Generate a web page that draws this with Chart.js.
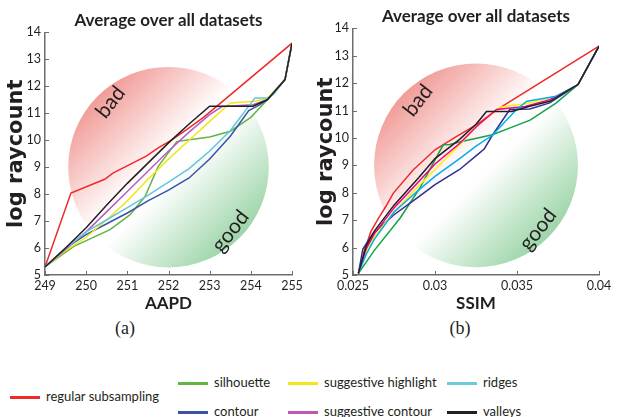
<!DOCTYPE html>
<html>
<head>
<meta charset="utf-8">
<script src="https://cdn.jsdelivr.net/npm/chart.js@4.4.1/dist/chart.umd.min.js"></script>
<style>
body { margin: 0; background: #fff; width: 628px; height: 417px; position: relative; overflow: hidden; font-family: Lato, sans-serif; color: #231f20; }
canvas { position: absolute; top: 0; }
#aapdChart { left: 0; }
#ssimChart { left: 310px; }
.caption { position: absolute; top: 318px; font: 18px 'Liberation Serif', serif; transform: translateX(-50%); }
.key { position: absolute; font-size: 13px; line-height: 16px; white-space: nowrap; }
.key i { display: inline-block; width: 30px; height: 3px; vertical-align: middle; margin-right: 6px; }
</style>
</head>
<body>
<canvas id="aapdChart" width="310" height="318"></canvas>
<canvas id="ssimChart" width="318" height="318"></canvas>
<div class="caption" style="left:125px">(a)</div>
<div class="caption" style="left:460px">(b)</div>
<div id="legend"></div>
<script>
'use strict'

const seriesNames = ['regular subsampling', 'silhouette', 'contour', 'suggestive highlight', 'suggestive contour', 'ridges', 'valleys'];
const raycountTicks = [5, 6, 7, 8, 9, 10, 11, 12, 13, 14];
const aapdTicks = [249, 250, 251, 252, 253, 254, 255];
const ssimTicks = [0.025, 0.03, 0.035, 0.04];

// AAPD vs log raycount, [x, y]
const aapdRegular = [[249, 5.3], [249.63, 8.04], [250.45, 8.55], [250.65, 8.78], [251.47, 9.42], [251.75, 9.72], [252.07, 10.0], [252.45, 10.4], [252.85, 10.85], [255, 13.6]];
const aapdSilhouette = [[249, 5.3], [249.7, 6.06], [250.58, 6.68], [251.06, 7.23], [251.43, 7.91], [251.75, 9.03], [252.2, 9.95], [252.5, 10.02], [253, 10.12], [253.5, 10.33], [254, 10.85], [254.4, 11.5], [254.83, 12.25], [255, 13.6]];
const aapdContour = [[249, 5.3], [249.5, 6.0], [250, 6.5], [250.5, 6.9], [251, 7.3], [251.5, 7.75], [252, 8.15], [252.5, 8.6], [253, 9.3], [253.5, 10.15], [253.95, 11.1], [254.2, 11.3], [254.4, 11.5], [254.83, 12.25], [255, 13.6]];
const aapdHighlight = [[249, 5.3], [249.5, 5.9], [250, 6.4], [250.5, 7.05], [251, 7.75], [251.5, 8.55], [252, 9.3], [252.5, 10.0], [253, 10.7], [253.5, 11.38], [254.1, 11.45], [254.4, 11.55], [254.83, 12.25], [255, 13.6]];
const aapdSugContour = [[249, 5.3], [249.5, 5.95], [250, 6.6], [250.5, 7.35], [251, 8.1], [251.5, 8.85], [252, 9.6], [252.5, 10.3], [253, 10.95], [253.3, 11.25], [254.05, 11.32], [254.4, 11.5], [254.83, 12.25], [255, 13.6]];
const aapdRidges = [[249, 5.3], [249.5, 6.0], [250, 6.6], [250.5, 7.05], [251, 7.5], [251.5, 7.95], [252, 8.45], [252.5, 8.95], [253, 9.6], [253.5, 10.35], [254.1, 11.57], [254.4, 11.57], [254.55, 11.7], [254.83, 12.25], [255, 13.6]];
const aapdValleys = [[249, 5.3], [249.5, 6.0], [250, 6.75], [250.5, 7.6], [251, 8.4], [251.5, 9.15], [252, 9.9], [252.5, 10.6], [253, 11.26], [254.05, 11.26], [254.4, 11.5], [254.83, 12.25], [255, 13.6]];

// SSIM vs log raycount, [x, y]
const ssimRegular = [[0.02533, 5.06], [0.0257, 5.9], [0.0261, 6.6], [0.02655, 7.07], [0.027, 7.5], [0.02746, 7.99], [0.02868, 8.84], [0.03, 9.57], [0.03132, 10.06], [0.03254, 10.49], [0.03395, 11.1], [0.04, 13.35]];
const ssimSilhouette = [[0.02533, 5.06], [0.0263, 5.9], [0.0279, 7.1], [0.0291, 8.2], [0.03, 9.2], [0.0305, 9.75], [0.0309, 9.76], [0.0317, 9.88], [0.0335, 10.12], [0.0345, 10.35], [0.0358, 10.65], [0.0374, 11.28], [0.03872, 11.95], [0.04, 13.35]];
const ssimContour = [[0.02533, 5.06], [0.0256, 5.95], [0.0262, 6.5], [0.0275, 7.2], [0.029, 7.85], [0.03, 8.3], [0.0315, 8.85], [0.0325, 9.35], [0.033, 9.6], [0.0335, 10.1], [0.03456, 11.04], [0.03578, 11.06], [0.037, 11.28], [0.03872, 11.95], [0.04, 13.35]];
const ssimHighlight = [[0.02533, 5.06], [0.0258, 5.85], [0.0263, 6.4], [0.0275, 7.3], [0.029, 8.25], [0.03, 8.85], [0.0315, 9.75], [0.0325, 10.4], [0.03395, 11.12], [0.0356, 11.26], [0.0374, 11.52], [0.03872, 11.95], [0.04, 13.35]];
const ssimSugContour = [[0.02533, 5.06], [0.0258, 5.95], [0.0263, 6.5], [0.0275, 7.45], [0.029, 8.4], [0.03, 9.05], [0.0315, 9.8], [0.0325, 10.4], [0.03375, 11.04], [0.0355, 11.15], [0.037, 11.4], [0.03872, 11.95], [0.04, 13.35]];
const ssimRidges = [[0.02533, 5.06], [0.0258, 5.75], [0.0263, 6.3], [0.0275, 7.3], [0.029, 8.1], [0.03, 8.6], [0.0315, 9.25], [0.0325, 9.7], [0.0335, 10.1], [0.03497, 11.04], [0.0356, 11.34], [0.0365, 11.43], [0.0374, 11.52], [0.03872, 11.95], [0.04, 13.35]];
const ssimValleys = [[0.02533, 5.06], [0.0258, 6.05], [0.0263, 6.6], [0.0275, 7.55], [0.029, 8.55], [0.03, 9.25], [0.0315, 9.95], [0.0325, 10.5], [0.03314, 10.97], [0.03467, 10.97], [0.03578, 11.16], [0.037, 11.34], [0.03872, 11.95], [0.04, 13.35]];

const legendColors = ['#ee2a2a', '#62b446', '#3a53a4', '#f2e51a', '#c157b0', '#6cc9d9', '#231f20'];
const aapdColors = ['#ee2a2a', '#62b446', '#3a53a4', '#f2e51a', '#b45fbf', '#62c6dc', '#231f20'];
const ssimColors = ['#ee2a2a', '#13a24b', '#2e3192', '#fff200', '#ec008c', '#00aeef', '#231f20'];

Chart.defaults.font.family = 'Lato, sans-serif';
Chart.defaults.color = '#231f20';

// red/green disc behind the lines + inward tick marks
const backdrop = {
    id: 'backdrop',
    beforeDatasetsDraw(chart, args, opts) {
        const { ctx } = chart;
        const x = chart.scales.x, y = chart.scales.y;
        const cx = x.getPixelForValue(opts.cx);
        const cy = y.getPixelForValue(opts.cy);
        const r = Math.abs(y.getPixelForValue(opts.cy) - y.getPixelForValue(opts.cy + opts.r));
        const g = ctx.createLinearGradient(cx - r * 0.75, cy - r * 0.75, cx + r * 0.75, cy + r * 0.75);
        g.addColorStop(0, '#f09590');
        g.addColorStop(0.45, '#ffffff');
        g.addColorStop(0.55, '#ffffff');
        g.addColorStop(1, '#96d2a2');
        ctx.save();
        ctx.beginPath();
        ctx.arc(cx, cy, r, 0, Math.PI * 2);
        ctx.fillStyle = g;
        ctx.fill();
        ctx.fillStyle = '#231f20';
        ctx.font = '21px Lato, sans-serif';
        ctx.textAlign = 'center';
        ctx.textBaseline = 'middle';
        [['bad', -58, -65], ['good', 62, 64]].forEach(([t, dx, dy]) => {
            ctx.save();
            ctx.translate(cx + dx, cy + dy);
            ctx.rotate(-52 * Math.PI / 180);
            ctx.fillText(t, 0, 0);
            ctx.restore();
        });
        ctx.restore();
    },
    afterDatasetsDraw(chart) {
        const { ctx, chartArea } = chart;
        const x = chart.scales.x, y = chart.scales.y;
        ctx.save();
        ctx.strokeStyle = '#6d6e71';
        ctx.lineWidth = 1;
        ctx.beginPath();
        x.ticks.forEach(t => {
            const px = Math.round(x.getPixelForValue(t.value)) + 0.5;
            ctx.moveTo(px, chartArea.bottom);
            ctx.lineTo(px, chartArea.bottom - 4);
        });
        y.ticks.forEach(t => {
            const py = Math.round(y.getPixelForValue(t.value)) + 0.5;
            ctx.moveTo(chartArea.left, py);
            ctx.lineTo(chartArea.left + 4, py);
        });
        ctx.stroke();
        ctx.restore();
    }
};

function makeChart(id, series, colors, xTicks, xTitle, disc, pad) {
    const datasets = series.map((pts, i) => ({
        label: seriesNames[i],
        data: pts.map(p => ({ x: p[0], y: p[1] })),
        borderColor: colors[i],
        backgroundColor: colors[i],
        borderWidth: 1.5,
        showLine: true,
        pointRadius: 0,
        tension: 0
    })).reverse(); // valleys on top

    return new Chart(document.getElementById(id).getContext('2d'), {
        type: 'scatter',
        data: { datasets },
        plugins: [backdrop],
        options: {
            responsive: false,
            animation: false,
            devicePixelRatio: 1,
            layout: { padding: { left: 0, right: pad.right, top: 0, bottom: 0 } },
            plugins: {
                legend: { display: false },
                tooltip: { enabled: false },
                title: {
                    display: true,
                    fullSize: false,
                    text: 'Average over all datasets',
                    font: { size: 17, weight: 'bold' },
                    padding: { top: pad.titleTop, bottom: 2 }
                },
                backdrop: disc
            },
            scales: {
                x: {
                    type: 'linear',
                    min: xTicks[0],
                    max: xTicks[xTicks.length - 1],
                    afterBuildTicks: s => { s.ticks = xTicks.map(v => ({ value: v })); },
                    afterFit: s => { s.height = 43; },
                    grid: { display: false, drawTicks: false },
                    border: { display: true, color: '#6d6e71', width: 1.5 },
                    ticks: { font: { size: 12.5 }, padding: 3, maxRotation: 0, callback: v => String(v) },
                    title: { display: true, text: xTitle, font: { size: 17, weight: 'bold' }, padding: { top: 0, bottom: 4 } }
                },
                y: {
                    min: 5,
                    max: 14,
                    afterBuildTicks: s => { s.ticks = raycountTicks.map(v => ({ value: v })); },
                    afterFit: s => { s.width = pad.yWidth; },
                    grid: { display: false, drawTicks: false },
                    border: { display: true, color: '#6d6e71', width: 1.5 },
                    ticks: { font: { size: 12.5 }, padding: 4 },
                    title: { display: true, text: 'log raycount', font: { family: 'DejaVu Sans', size: 21, weight: 'bold' }, padding: { top: 4, bottom: 0 } }
                }
            }
        }
    });
}

const aapdChart = makeChart('aapdChart',
    [aapdRegular, aapdSilhouette, aapdContour, aapdHighlight, aapdSugContour, aapdRidges, aapdValleys],
    aapdColors, aapdTicks, 'AAPD',
    { cx: 252, cy: 9, r: 3.72 },
    { right: 18, titleTop: 10, yWidth: 45 });

const ssimChart = makeChart('ssimChart',
    [ssimRegular, ssimSilhouette, ssimContour, ssimHighlight, ssimSugContour, ssimRidges, ssimValleys],
    ssimColors, ssimTicks, 'SSIM',
    { cx: 0.0325, cy: 9, r: 3.72 },
    { right: 29, titleTop: 6, yWidth: 43 });

// legend, laid out like the figure: one item on the left, then 3 columns x 2 rows
const keySlots = [[10, 397], [178, 383], [178, 412], [288, 383], [288, 412], [447, 383], [447, 412]];
const legend = document.getElementById('legend');
seriesNames.forEach((name, i) => {
    const el = document.createElement('div');
    el.className = 'key';
    el.style.left = keySlots[i][0] + 'px';
    el.style.top = (keySlots[i][1] - 9) + 'px';
    el.innerHTML = '<i style="background:' + legendColors[i] + '"></i>' + name;
    legend.appendChild(el);
});
</script>
</body>
</html>
